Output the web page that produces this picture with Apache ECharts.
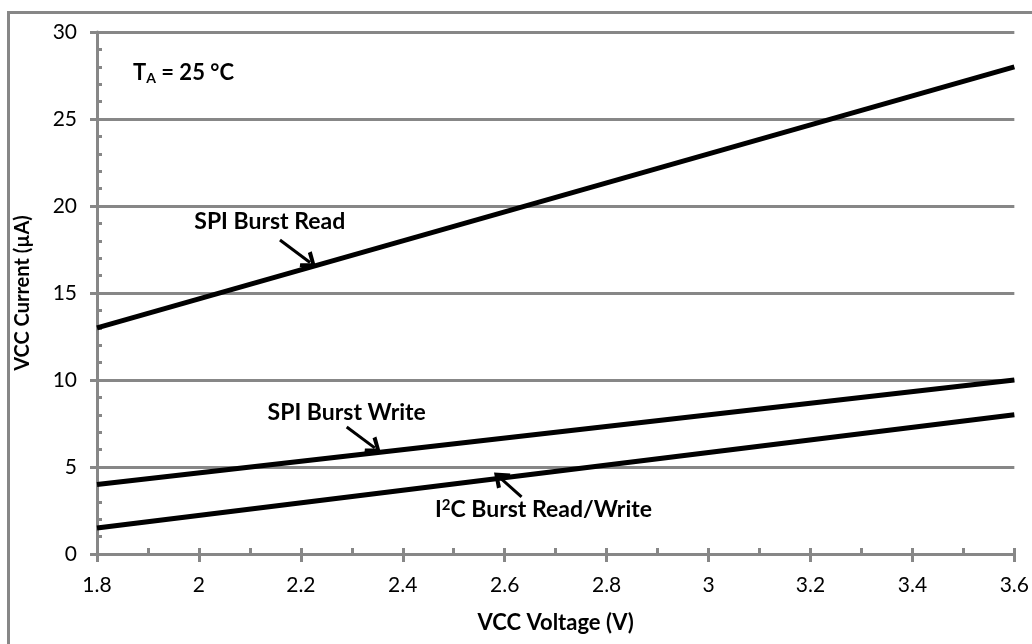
<!DOCTYPE html>
<html>
<head>
<meta charset="utf-8">
<script src="https://cdn.jsdelivr.net/npm/echarts@6/dist/echarts.min.js"></script>
<style>
  html, body { margin: 0; padding: 0; background: #fff; }
  #chart { width: 1032px; height: 644px; }
</style>
</head>
<body>
<div id="chart"></div>
<script>
// supply voltage (V) at the two ends of each line
const voltage = [1.8, 3.6]
// supply current (uA)
const spiRead = [13, 28]
const spiWrite = [4, 10]
const i2cReadWrite = [1.5, 8]

// callout arrows: [tail, head] in data units
const spiReadArrow = [[2.159, 18.05], [2.218, 16.75]]
const spiWriteArrow = [[2.290, 7.30], [2.345, 6.10]]
const i2cArrow = [[2.633, 3.28], [2.590, 4.40]]

// callout text anchors in data units
const spiReadText = [2.139, 19.08]
const spiWriteText = [2.290, 8.10]
const i2cText = [2.676, 2.53]

const FONT = 'Lato, "Open Sans", sans-serif'
const GRAY = '#878787'
const chevron = 'path://M5,0 L10,8.6 L8.2,10 L5,4.2 L1.8,10 L0,8.6 Z'

const pairs = (xs, ys) => xs.map((x, i) => [x, ys[i]])

const arrow = (a) => ({
  silent: true,
  symbol: ['none', chevron],
  symbolSize: [20, 15],
  symbolKeepAspect: false,
  label: { show: false },
  lineStyle: { color: '#000', width: 3, type: 'solid' },
  data: [[{ coord: a[0] }, { coord: a[1] }]]
})

const callout = (pos, text) => ({
  silent: true,
  symbol: 'circle',
  symbolSize: 0,
  label: {
    show: true,
    position: 'inside',
    formatter: text,
    color: '#000',
    fontFamily: FONT,
    fontWeight: 'bold',
    fontSize: 23,
    rich: {
      sup: { fontFamily: FONT, fontWeight: 'bold', fontSize: 15, verticalAlign: 'top', padding: [0, 0, 10, 0], color: '#000' }
    }
  },
  data: [{ coord: pos }]
})

const lineSeries = (ys, a, pos, text) => ({
  type: 'line',
  data: pairs(voltage, ys),
  showSymbol: false,
  symbol: 'none',
  lineStyle: { color: '#000', width: 5, cap: 'butt' },
  animation: false,
  markLine: arrow(a),
  markPoint: callout(pos, text)
})

const chart = echarts.init(document.getElementById('chart'))
chart.setOption({
  animation: false,
  backgroundColor: '#fff',
  grid: { left: 97, right: 17, top: 32, bottom: 90 },
  title: {
    left: 128, top: 55,
    text: 'T{sub|A} = 25 °C',
    textStyle: {
      fontFamily: FONT, fontWeight: 'bold', fontSize: 22, color: '#000',
      rich: {
        sub: { fontFamily: FONT, fontWeight: 'bold', fontSize: 14, color: '#000', verticalAlign: 'bottom', padding: [11, 0, 0, 0] }
      }
    }
  },
  graphic: [{
    type: 'rect', silent: true,
    shape: { x: 8.5, y: 12.5, width: 1100, height: 700 },
    style: { fill: 'none', stroke: GRAY, lineWidth: 3 }
  }],
  xAxis: [{
    type: 'value', min: 1.8, max: 3.6, interval: 0.2, position: 'bottom',
    name: 'VCC Voltage (V)', nameLocation: 'middle', nameGap: 58,
    nameTextStyle: { fontFamily: FONT, fontWeight: 'bold', fontSize: 22, color: '#000' },
    axisLine: { show: true, lineStyle: { color: GRAY, width: 3 } },
    axisTick: { show: true, length: 8, lineStyle: { color: GRAY, width: 3 } },
    axisLabel: { margin: 21, fontFamily: FONT, fontSize: 21, color: '#000' },
    splitLine: { show: false }
  }, {
    type: 'value', min: 1.8, max: 3.6, interval: 0.2, position: 'bottom',
    axisLine: { show: false },
    axisTick: { show: true, inside: true, length: 6, lineStyle: { color: GRAY, width: 3 } },
    minorTick: { show: true, splitNumber: 2, length: 6, lineStyle: { color: GRAY, width: 3 } },
    axisLabel: { show: false },
    splitLine: { show: false }
  }],
  yAxis: [{
    type: 'value', min: 0, max: 30, interval: 5, position: 'left',
    name: 'VCC Current (µA)', nameLocation: 'middle', nameGap: 64,
    nameTextStyle: { fontFamily: FONT, fontWeight: 'bold', fontSize: 20, color: '#000' },
    axisLine: { show: true, lineStyle: { color: GRAY, width: 3 } },
    axisTick: { show: true, length: 7, lineStyle: { color: GRAY, width: 3 } },
    axisLabel: { margin: 20, fontFamily: FONT, fontSize: 21, color: '#000' },
    splitLine: { show: true, lineStyle: { color: GRAY, width: 3 } }
  }, {
    type: 'value', min: 0, max: 30, interval: 5, position: 'left',
    axisLine: { show: false },
    axisTick: { show: false, inside: true },
    minorTick: { show: true, splitNumber: 5, length: 5, lineStyle: { color: GRAY, width: 3 } },
    axisLabel: { show: false },
    splitLine: { show: false }
  }],
  series: [
    lineSeries(spiRead, spiReadArrow, spiReadText, 'SPI Burst Read'),
    lineSeries(spiWrite, spiWriteArrow, spiWriteText, 'SPI Burst Write'),
    lineSeries(i2cReadWrite, i2cArrow, i2cText, 'I{sup|2}C Burst Read/Write')
  ]
})
</script>
</body>
</html>
